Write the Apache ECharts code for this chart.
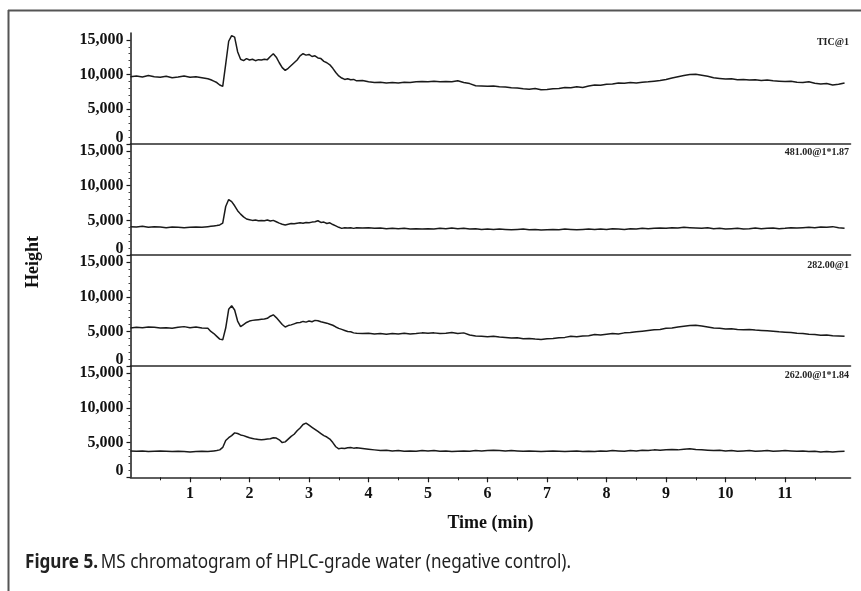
<!DOCTYPE html>
<html>
<head>
<meta charset="utf-8">
<script src="https://cdn.jsdelivr.net/npm/echarts@6/dist/echarts.min.js"></script>
<style>
html,body{margin:0;padding:0;background:#fff;}
#chart{width:861px;height:591px;}
</style>
</head>
<body>
<div id="chart"></div>
<script>
// Retention time (min)
const time = [
0,0.1,0.2,0.3,0.4,0.5,0.6,0.7,0.8,0.9,1.0,1.1,1.2,1.3,
1.35,1.4,1.45,1.5,1.55,1.6,1.65,1.7,1.75,1.8,1.85,1.9,1.95,2.0,2.05,2.1,2.15,2.2,2.25,2.3,2.35,2.4,2.45,2.5,2.55,2.6,2.65,2.7,2.75,2.8,2.85,2.9,2.95,3.0,3.05,3.1,3.15,3.2,3.25,3.3,3.35,3.4,3.45,3.5,3.55,3.6,3.65,3.7,3.75,3.8,
3.9,4.0,4.1,4.2,4.3,4.4,4.5,4.6,4.7,4.8,4.9,5.0,5.1,5.2,5.3,5.4,5.5,5.6,5.7,5.8,5.9,
6.0,6.1,6.2,6.3,6.4,6.5,6.6,6.7,6.8,6.9,7.0,7.1,7.2,7.3,7.4,7.5,7.6,7.7,7.8,7.9,
8.0,8.1,8.2,8.3,8.4,8.5,8.6,8.7,8.8,8.9,9.0,9.1,9.2,9.3,9.4,9.5,9.6,9.7,9.8,9.9,
10.0,10.1,10.2,10.3,10.4,10.5,10.6,10.7,10.8,10.9,11.0,11.1,11.2,11.3,11.4,11.5,11.6,11.7,11.8,11.9,12.0
];

// Trace labels
const traceLabels = ['TIC@1', '481.00@1*1.87', '282.00@1', '262.00@1*1.84'];

// TIC
const ticHeight = [
9700,9800,9650,9850,9700,9600,9750,9550,9650,9800,9600,9700,9550,9400,
9250,9050,8850,8500,8300,11500,14800,15600,15400,13300,12200,12000,12300,12100,12200,12000,12150,12100,12200,12150,12600,13000,12500,11700,11000,10600,10900,11300,11700,12100,12700,13000,12800,12900,12600,12700,12400,12300,11900,11700,11400,10900,10300,9800,9500,9300,9400,9250,9300,9100,
9150,8950,8850,8900,8800,8850,8800,8900,8850,8950,9000,8950,9050,8950,9000,8950,9100,8850,8700,8400,8350,
8300,8350,8250,8200,8100,8050,7950,7900,8000,7800,7850,7950,8000,8150,8100,8250,8150,8350,8500,8450,
8600,8650,8800,8750,8850,8800,8900,8950,9050,9150,9300,9500,9700,9850,10000,10050,9900,9750,9550,9450,
9350,9400,9250,9300,9200,9250,9150,9200,9100,9050,9000,9050,8900,8850,8950,8750,8650,8700,8500,8600,8800
];

// m/z 481.00
const mz481Height = [
4100,4050,4150,4000,4100,4050,3950,4050,4000,3950,4000,4050,4000,4100,
4150,4200,4250,4350,4600,7000,8000,7700,7100,6400,5900,5500,5200,5100,5000,5050,4950,5000,4950,5050,4900,5000,4800,4600,4450,4350,4450,4550,4500,4600,4650,4600,4700,4650,4750,4800,4950,4700,4750,4550,4650,4400,4200,4000,3850,3950,3900,3950,3850,3950,
3900,3950,3850,3900,3800,3850,3800,3850,3750,3800,3750,3800,3750,3850,3800,3900,3800,3850,3750,3800,3700,
3750,3700,3750,3700,3650,3700,3750,3650,3700,3600,3650,3700,3650,3750,3700,3650,3700,3750,3700,3750,
3700,3800,3750,3700,3800,3750,3850,3800,3850,3900,3850,3950,3900,4000,3950,3900,3850,3950,3800,3850,
3750,3800,3850,3750,3800,3900,3800,3850,3900,3800,3850,3950,3900,3950,4000,3950,4050,4000,4100,3950,3850
];

// m/z 282.00
const mz282Height = [
5500,5600,5550,5650,5600,5500,5550,5450,5600,5700,5550,5650,5500,5450,
5000,4700,4300,3900,3800,5500,8200,8700,8100,6500,5700,6000,6300,6500,6600,6650,6700,6750,6800,6900,7200,7400,7000,6500,6000,5650,5850,5950,6100,6250,6300,6450,6350,6500,6400,6600,6550,6400,6300,6200,6050,5900,5650,5450,5300,5150,5000,4950,4800,4750,
4700,4750,4650,4700,4600,4700,4650,4750,4650,4700,4800,4750,4800,4700,4750,4850,4700,4800,4500,4350,4300,
4250,4300,4200,4150,4050,4100,3950,4000,3900,3850,3950,4000,4100,4150,4300,4250,4350,4400,4550,4500,
4600,4700,4650,4800,4850,4950,5050,5150,5250,5300,5450,5500,5650,5750,5850,5900,5800,5650,5500,5450,
5350,5400,5300,5250,5300,5200,5150,5100,5050,4950,4900,4850,4750,4700,4600,4550,4450,4500,4400,4350,4300
];

// m/z 262.00
const mz262Height = [
3800,3750,3800,3700,3750,3800,3750,3700,3750,3700,3650,3700,3750,3700,
3750,3800,3850,3950,4300,5300,5700,6000,6400,6300,6100,6000,5850,5700,5600,5500,5450,5400,5450,5500,5550,5700,5650,5400,5000,5100,5500,5900,6200,6700,7100,7600,7800,7500,7200,6900,6600,6300,6000,5800,5500,5000,4400,4100,4200,4150,4250,4300,4200,4250,
4150,4050,3950,3850,3900,3800,3850,3750,3800,3750,3850,3800,3850,3750,3800,3700,3750,3800,3750,3850,3800,
3850,3900,3850,3800,3850,3800,3750,3800,3750,3700,3750,3800,3750,3700,3750,3800,3700,3750,3700,3800,
3750,3850,3800,3750,3850,3800,3900,3850,3950,3900,3950,4000,3950,4050,4100,4000,3950,3900,3850,3900,
3800,3850,3750,3800,3850,3750,3800,3850,3750,3800,3850,3800,3750,3800,3700,3750,3650,3700,3650,3700,3750
];

// Axis ticks
const yTickValues = [0, 5000, 10000, 15000];
const xTickValues = [1,2,3,4,5,6,7,8,9,10,11];

const traces = [ticHeight, mz481Height, mz282Height, mz262Height];

const serif = '"Liberation Serif", "Times New Roman", serif';
const ink = '#1a1a1a';
const gridLeft = 130.5, gridWidth = 720, panelH = 111.1, firstTop = 32.9;

const grids = [], xAxes = [], yAxes = [], series = [];
traces.forEach((vals, i) => {
  grids.push({left: gridLeft, width: gridWidth, top: firstTop + panelH * i, height: panelH});
  const last = i === traces.length - 1;
  xAxes.push({
    type: 'value', gridIndex: i, min: 0, max: 12.1, interval: 1,
    axisLine: {show: true, onZero: false, lineStyle: {color: '#2a2a2a', width: 1.6}},
    axisTick: last ? {show: true, length: 5, customValues: xTickValues, lineStyle: {color: ink, width: 1.2}} : {show: false},
    minorTick: last ? {show: true, splitNumber: 2, length: 3, lineStyle: {color: ink, width: 1}} : {show: false},
    axisLabel: last ? {show: true, customValues: xTickValues, margin: 9, fontFamily: serif, fontWeight: 'bold', fontSize: 16, color: '#111'} : {show: false},
    splitLine: {show: false}
  });
  yAxes.push({
    type: 'value', gridIndex: i, min: 0, max: 16000, interval: 5000,
    axisLine: {show: true, lineStyle: {color: ink, width: 1.5}},
    axisTick: {show: true, length: 4, customValues: yTickValues, lineStyle: {color: ink, width: 1.2}},
    minorTick: {show: true, splitNumber: 5, length: 2, lineStyle: {color: '#444', width: 1}},
    axisLabel: {
      show: true, customValues: yTickValues, margin: 7,
      fontFamily: serif, fontWeight: 'bold', fontSize: 16, color: '#111',
      formatter: v => v === 0 ? '{z|0}' : v.toLocaleString('en-US'),
      rich: {z: {fontFamily: serif, fontWeight: 'bold', fontSize: 16, color: '#111', padding: [0, 0, 13, 0]}}
    },
    splitLine: {show: false}
  });
  series.push({
    type: 'line', xAxisIndex: i, yAxisIndex: i,
    data: time.map((t, k) => [t, vals[k]]),
    showSymbol: false, symbol: 'none', smooth: false,
    lineStyle: {color: ink, width: 1.5}
  });
});

const labelY = [42, 152, 265, 375];
const graphic = [
  {type: 'line', shape: {x1: 8, y1: 10.5, x2: 861, y2: 10.5}, style: {stroke: '#555', lineWidth: 2}},
  {type: 'line', shape: {x1: 8.5, y1: 10, x2: 8.5, y2: 591}, style: {stroke: '#555', lineWidth: 2}},
  {type: 'text', x: 33, y: 262, rotation: Math.PI / 2,
   style: {text: 'Height', font: 'bold 18px ' + serif, fill: '#111', align: 'center', verticalAlign: 'middle'}},
  {type: 'text', x: 490.5, y: 523,
   style: {text: 'Time (min)', font: 'bold 18px ' + serif, fill: '#111', align: 'center', verticalAlign: 'middle'}},
  {type: 'text', x: 25, y: 562, scaleX: 0.855,
   style: {
     text: '{b|Figure 5.} {r|MS chromatogram of HPLC-grade water (negative control).}',
     align: 'left', verticalAlign: 'middle',
     rich: {
       b: {fontFamily: '"Noto Sans", sans-serif', fontWeight: 'bold', fontSize: 20, fill: '#222'},
       r: {fontFamily: '"Noto Sans", sans-serif', fontWeight: 'normal', fontSize: 20, fill: '#222'}
     }
   }}
];
traceLabels.forEach((t, i) => {
  graphic.push({type: 'text', x: 849, y: labelY[i],
    style: {text: t, font: 'bold 10px ' + serif, fill: '#222', align: 'right', verticalAlign: 'middle'}});
});

const chart = echarts.init(document.getElementById('chart'), null, {renderer: 'canvas'});
chart.setOption({
  animation: false,
  backgroundColor: '#fff',
  grid: grids, xAxis: xAxes, yAxis: yAxes, series: series,
  graphic: graphic
});
</script>
</body>
</html>
